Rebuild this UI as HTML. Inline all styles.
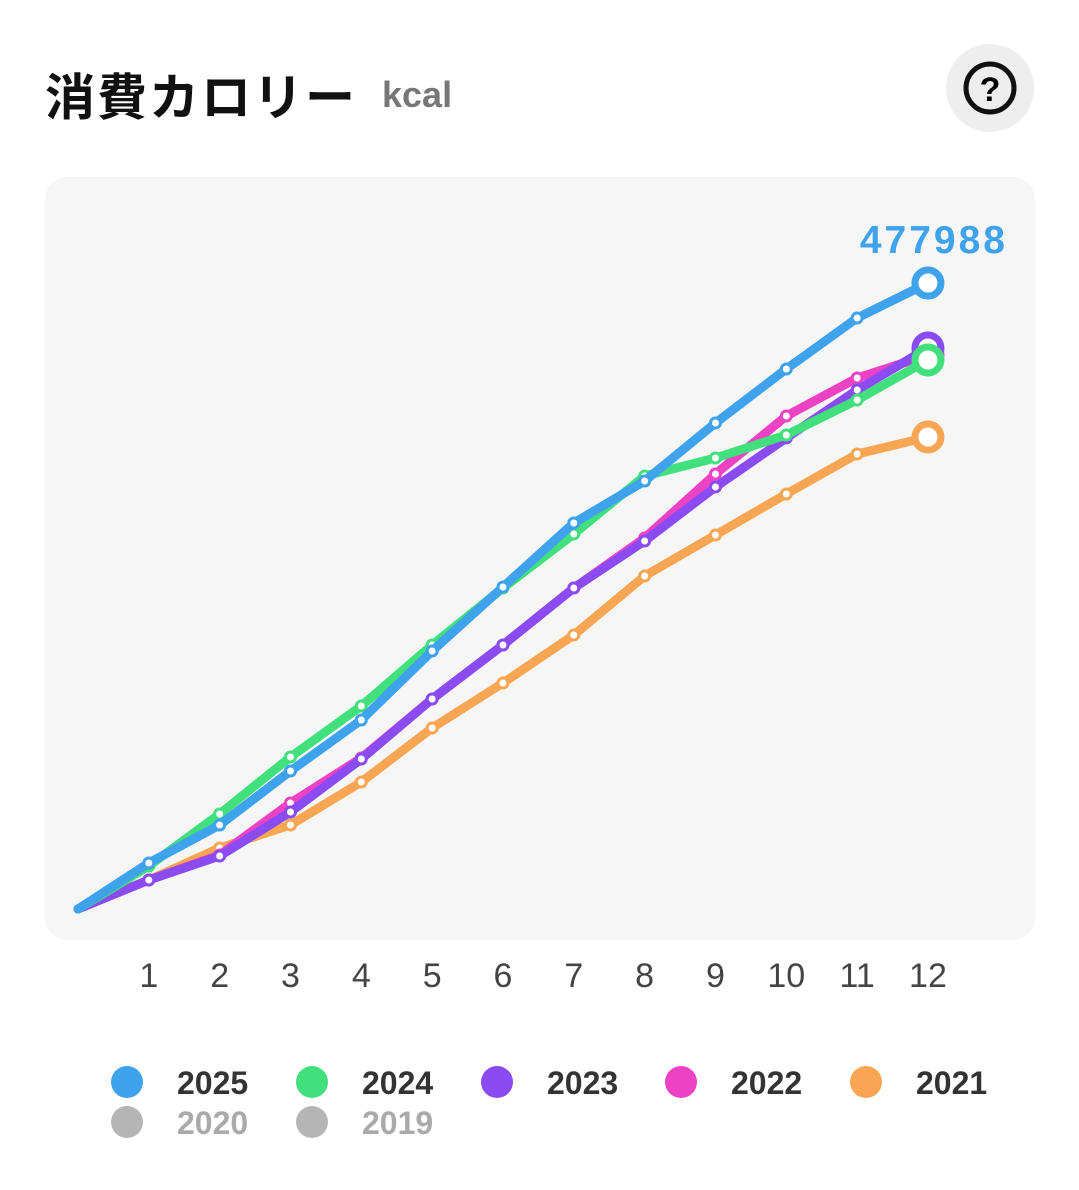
<!DOCTYPE html>
<html><head><meta charset="utf-8"><style>
body{margin:0;width:1079px;height:1190px;background:#fff;font-family:"Liberation Sans","Noto Sans CJK JP",sans-serif;overflow:hidden;position:relative}
</style></head><body>
<div style="position:absolute;left:45px;top:58px;font-size:50px;letter-spacing:2px;font-weight:bold;color:#111">消費カロリー</div>
<div style="position:absolute;left:382px;top:74px;font-size:36px;font-weight:bold;color:#777">kcal</div>
<div style="position:absolute;left:946px;top:44px;width:88px;height:88px;border-radius:50%;background:#eee">
<svg width="88" height="88"><circle cx="44" cy="44" r="24" fill="none" stroke="#111" stroke-width="5"/><text x="44" y="57" text-anchor="middle" font-size="34" font-weight="bold" font-family="Liberation Sans">?</text></svg></div>
<svg id="chart" width="1079" height="1190" style="position:absolute;left:0;top:0">
<rect x="45" y="177" width="990" height="763" rx="22" fill="#f6f6f6"/>
</svg>
<script>
const months=[1,2,3,4,5,6,7,8,9,10,11,12];
const s2025=[35126,64142,105377,144320,197009,245879,294750,326821,371110,412344,451288,477988];
const s2024=[32835,72542,116067,155011,201590,245116,286350,330639,344384,361946,388672,419216];
const s2023=[22144,40471,74069,114540,160356,201590,245116,281005,322239,359656,396308,428380];
const s2022=[22144,41234,80942,115304,160356,201590,245116,283296,332166,376455,405472,423034];
const s2021=[22144,46580,64142,96977,138212,172574,209226,254279,285586,316894,347438,360419];
const years=["2025","2024","2023","2022","2021"];
const colors={"2025":"#3ea2ec","2024":"#41e07d","2023":"#8a4cf2","2022":"#ee42c4","2021":"#f9a654"};
const seriesMap={"2025":s2025,"2024":s2024,"2023":s2023,"2022":s2022,"2021":s2021};
const xs=m=>78+m*70.83;
const ys=v=>909-v/763.6;
const svg=document.getElementById('chart');
const NS="http://www.w3.org/2000/svg";
function mk(t,a){const e=document.createElementNS(NS,t);for(const k in a)e.setAttribute(k,a[k]);svg.appendChild(e);return e;}
months.forEach(m=>{const t=mk('text',{x:xs(m),y:987,'text-anchor':'middle','font-size':34,fill:'#444','font-family':'Liberation Sans'});t.textContent=m;

});
["2021","2022","2023","2024","2025"].forEach(y=>{
 const d=seriesMap[y],c=colors[y];
 let p=`M${xs(0)},${ys(0)}`;d.forEach((v,i)=>p+=` L${xs(months[i])},${ys(v)}`);
 const l=mk('path',{d:p,fill:'none',stroke:c,'stroke-width':9,'stroke-linejoin':'round','stroke-linecap':'round'});
 
 
 d.forEach((v,i)=>{const last=i==d.length-1;
  const pt=mk('circle',{cx:xs(months[i]),cy:ys(v),r:last?13:5,fill:'#fff',stroke:c,'stroke-width':last?7:3});
  
  });
});
const lbl=mk('text',{x:1008,y:ys(s2025[11])-30,'text-anchor':'end','font-size':39,'font-weight':'bold',fill:colors["2025"],'font-family':'Liberation Sans','letter-spacing':'3'});
lbl.textContent=s2025[11];


const legend=[["2025",127,1082,colors["2025"],"#333"],["2024",312,1082,colors["2024"],"#333"],["2023",497,1082,colors["2023"],"#333"],["2022",681,1082,colors["2022"],"#333"],["2021",866,1082,colors["2021"],"#333"],["2020",127,1122,"#b5b5b5","#aaa"],["2019",312,1122,"#b5b5b5","#aaa"]];
legend.forEach(([n,x,y,c,tc])=>{
 const ci=mk('circle',{cx:x,cy:y,r:16,fill:c});
 
 
 const t=mk('text',{x:x+50,y:y+12,'font-size':32,'font-weight':'bold',fill:tc,'font-family':'Liberation Sans'});t.textContent=n;
 
 
});
</script>
</body></html>
